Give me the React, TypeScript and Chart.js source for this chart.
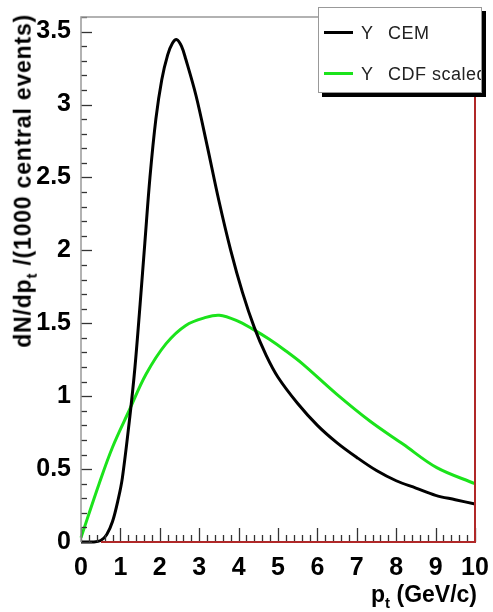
import { useEffect, useRef } from "react";
import { Chart, registerables } from "chart.js";

Chart.register(...registerables);

// ---- data ----
const cemX = [0, 0.3, 0.5, 0.65, 0.8, 0.95, 1.05, 1.24, 1.37, 1.5, 1.62, 1.75, 1.9, 2.05, 2.2, 2.32, 2.43, 2.55, 2.66, 2.92, 3.2, 3.5, 3.8, 4.1, 4.4, 4.7, 5.0, 5.5, 6.0, 6.5, 7.0, 7.5, 8.0, 8.5, 9.0, 9.5, 10];
const cemY = [0, 0, 0.01, 0.05, 0.14, 0.3, 0.44, 0.86, 1.2, 1.63, 2.05, 2.5, 2.9, 3.17, 3.34, 3.42, 3.445, 3.4, 3.31, 3.06, 2.72, 2.34, 2.0, 1.71, 1.47, 1.28, 1.13, 0.95, 0.8, 0.68, 0.58, 0.49, 0.42, 0.37, 0.32, 0.29, 0.26];
const cdfX = [0, 0.46, 0.8, 1.22, 1.65, 2.16, 2.66, 3.17, 3.51, 3.94, 4.36, 4.78, 5.2, 5.63, 6.48, 7.33, 8.18, 9.03, 10];
const cdfY = [0.03, 0.4, 0.65, 0.9, 1.15, 1.36, 1.485, 1.54, 1.555, 1.52, 1.46, 1.39, 1.31, 1.22, 1.016, 0.83, 0.67, 0.51, 0.4];
const seriesNames = ["CEM", "CDF scaled"];
const seriesPrefix = "Y";
const seriesColors = ["#000000", "#1be31b"];
const xMin = 0, xMax = 10, xStep = 1, xMinorStep = 0.2;
const yMin = 0, yMax = 3.6, yStep = 0.5, yMinorStep = 0.1;
const yTitleMain = "dN/dp";
const yTitleSub = "t";
const yTitleRest = " /(1000 central events)";
const xTitleMain = "p";
const xTitleSub = "t";
const xTitleRest = " (GeV/c)";

const FONT = "'Liberation Sans', Arial, Helvetica, sans-serif";

const frameTicks = {
  id: "frameTicks",
  afterDatasetsDraw(chart: any) {
    const { ctx, chartArea: a, scales } = chart;
    const xs = scales.x, ys = scales.y;
    ctx.save();
    ctx.strokeStyle = "#333";
    ctx.lineWidth = 1.3;
    for (let v = yMin; v <= yMax + 1e-9; v += yMinorStep) {
      const r = Math.round(v * 10) / 10;
      const major = Math.abs(r / yStep - Math.round(r / yStep)) < 1e-6;
      const py = Math.round(ys.getPixelForValue(r)) + 0.5;
      ctx.beginPath();
      ctx.moveTo(a.left, py);
      ctx.lineTo(a.left + (major ? 11 : 6), py);
      ctx.stroke();
    }
    for (let v = xMin; v <= xMax + 1e-9; v += xMinorStep) {
      const r = Math.round(v * 10) / 10;
      const major = Math.abs(r / xStep - Math.round(r / xStep)) < 1e-6;
      const px = Math.round(xs.getPixelForValue(r)) + 0.5;
      ctx.beginPath();
      ctx.moveTo(px, a.bottom);
      ctx.lineTo(px, a.bottom - (major ? 14 : 7));
      ctx.stroke();
    }
    ctx.lineWidth = 1.5;
    ctx.strokeStyle = "#999";
    ctx.beginPath();
    ctx.moveTo(a.left, a.bottom);
    ctx.lineTo(a.left, a.top);
    ctx.lineTo(a.right + 8, a.top);
    ctx.stroke();
    ctx.strokeStyle = "#b02828";
    ctx.lineWidth = 2;
    ctx.beginPath();
    ctx.moveTo(a.right, a.top);
    ctx.lineTo(a.right, a.bottom);
    ctx.lineTo(a.left + 20, a.bottom);
    ctx.stroke();
    ctx.restore();
  },
};

export default function App() {
  const ref = useRef<HTMLCanvasElement | null>(null);
  useEffect(() => {
    if (!ref.current) return;
    const chart = new Chart(ref.current, {
      type: "line",
      data: {
        datasets: [
          {
            label: seriesNames[0],
            data: cemX.map((x, i) => ({ x, y: cemY[i] })),
            borderColor: seriesColors[0],
            borderWidth: 3,
            pointRadius: 0,
            tension: 0.35,
            clip: 3,
          },
          {
            label: seriesNames[1],
            data: cdfX.map((x, i) => ({ x, y: cdfY[i] })),
            borderColor: seriesColors[1],
            borderWidth: 3,
            pointRadius: 0,
            tension: 0.35,
            clip: 3,
          },
        ],
      },
      options: {
        animation: false,
        responsive: false,
        layout: { padding: { top: 16, right: 18, left: 0, bottom: 0 } },
        plugins: { legend: { display: false }, tooltip: { enabled: false } },
        scales: {
          x: {
            type: "linear",
            min: xMin,
            max: xMax,
            grid: { display: false },
            border: { display: false },
            ticks: {
              stepSize: xStep,
              color: "#000",
              padding: 3,
              maxRotation: 0,
              font: { family: FONT, size: 25, weight: "bold" },
              callback: (v: any) => String(Number(v)),
            },
            afterFit(scale: any) {
              scale.height = 70;
            },
          },
          y: {
            type: "linear",
            min: yMin,
            max: yMax,
            grid: { display: false },
            border: { display: false },
            ticks: {
              stepSize: yStep,
              includeBounds: false,
              color: "#000",
              padding: 2,
              font: { family: FONT, size: 25, weight: "bold" },
              callback: (v: any) => String(Number(v)),
            },
            afterFit(scale: any) {
              scale.width = 81;
            },
          },
        },
      },
      plugins: [frameTicks],
    } as any);
    return () => chart.destroy();
  }, []);

  const legendRow = (i: number, top: number) => (
    <div style={{ position: "absolute", left: 0, top, height: 24, width: "100%" }}>
      <div style={{ position: "absolute", left: 5, top: 10, width: 29, height: 3, background: seriesColors[i] }} />
      <div style={{ position: "absolute", left: 42, top: 0, fontSize: 18, lineHeight: "24px", color: "#222", whiteSpace: "pre", fontFamily: FONT }}>
        {seriesPrefix}
      </div>
      <div style={{ position: "absolute", left: 69, top: 0, fontSize: 18, lineHeight: "24px", color: "#222", whiteSpace: "pre", fontFamily: FONT, letterSpacing: 0.5 }}>
        {seriesNames[i]}
      </div>
    </div>
  );

  return (
    <div style={{ position: "fixed", left: 0, top: 0, width: 493, height: 612, background: "#fff", fontFamily: FONT }}>
      <canvas ref={ref} width={493} height={612} style={{ position: "absolute", left: 0, top: 0 }} />
      <div
        style={{
          position: "absolute",
          left: 318,
          top: 7,
          width: 162,
          height: 84,
          border: "1px solid #999",
          background: "#fff",
          boxShadow: "4px 4px 0 #000",
          overflow: "hidden",
        }}
      >
        {legendRow(0, 13)}
        {legendRow(1, 54)}
      </div>
      <div
        style={{
          position: "absolute",
          left: 27,
          top: 14,
          transformOrigin: "0 0",
          transform: "rotate(-90deg) translate(-100%, -50%)",
          whiteSpace: "nowrap",
          fontSize: 23,
          letterSpacing: 0.8,
          fontWeight: "bold",
          lineHeight: "26px",
        }}
      >
        {yTitleMain}
        <sub style={{ fontSize: 15 }}>{yTitleSub}</sub>
        {yTitleRest}
      </div>
      <div
        style={{
          position: "absolute",
          right: 16,
          top: 581,
          whiteSpace: "nowrap",
          fontSize: 23,
          fontWeight: "bold",
          lineHeight: "26px",
        }}
      >
        {xTitleMain}
        <sub style={{ fontSize: 15 }}>{xTitleSub}</sub>
        {xTitleRest}
      </div>
    </div>
  );
}
